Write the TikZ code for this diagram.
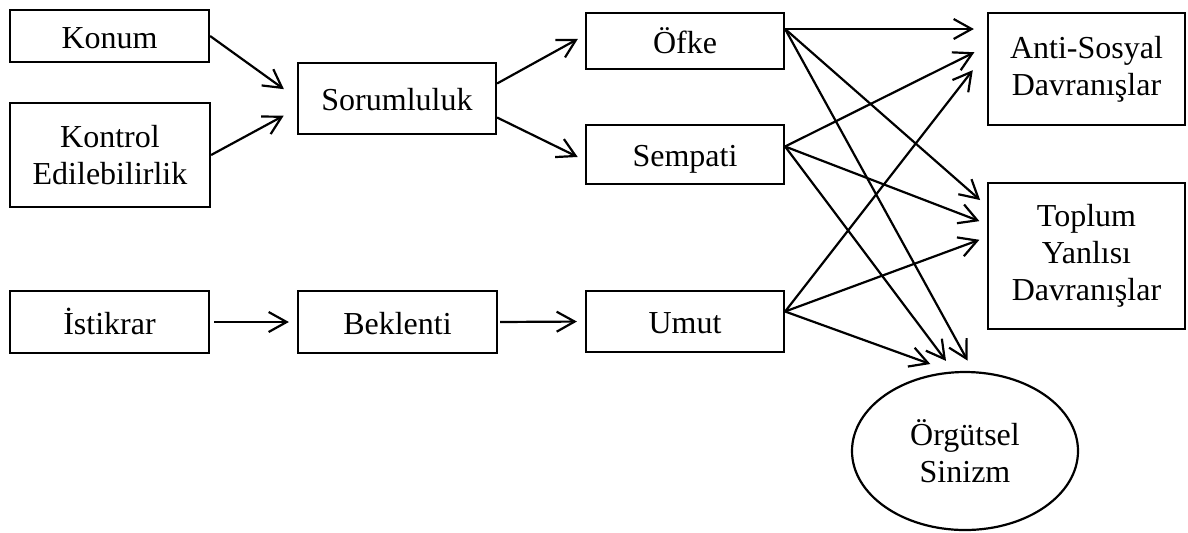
\documentclass[tikz,border=0pt]{standalone}
\usepackage{fontspec}
\setmainfont{Liberation Serif}
\usetikzlibrary{arrows.meta,shapes.geometric}
\tikzset{>={Straight Barb[length=9pt,width=10pt]}}

\begin{document}
\begin{tikzpicture}[x=0.5pt, y=-0.5pt, line width=1.1pt,
  box/.style={draw,rectangle,inner sep=0pt,align=center,font=\fontsize{16}{18.5}\selectfont},
  line/.style={text height=14pt,text depth=2pt},
  arr/.style={->,shorten >=4pt}]
  \useasboundingbox (0,0) rectangle (1188,532);

  % Causes
  \node[box,line,minimum width=99.5pt,minimum height=26pt] (konum)    at (109.5,36)  {Konum};
  \node[box,minimum width=100pt,minimum height=52pt]       (kontrol)  at (110,155)   {Kontrol\\Edilebilirlik};
  \node[box,line,minimum width=99.5pt,minimum height=31pt] (istikrar) at (109.5,322) {İstikrar};

  % Cognitions
  \node[box,line,minimum width=99pt,minimum height=35.5pt] (sorum)    at (397,98.5)  {Sorumluluk};
  \node[box,line,minimum width=99.5pt,minimum height=31pt] (beklenti) at (397.5,322) {Beklenti};

  % Emotions
  \node[box,line,minimum width=99pt,minimum height=28pt]   (ofke)     at (685,41)    {Öfke};
  \node[box,line,minimum width=99pt,minimum height=29.5pt] (sempati)  at (685,154.5) {Sempati};
  \node[box,line,minimum width=99pt,minimum height=30.5pt] (umut)     at (685,321.5) {Umut};

  % Outcomes
  \node[box,minimum width=98.5pt,minimum height=56pt]   (anti)     at (1086.5,69)  {Anti-Sosyal\\Davranışlar};
  \node[box,minimum width=98.5pt,minimum height=73pt]   (toplum)   at (1086.5,256) {Toplum\\Yanlısı\\Davranışlar};
  \node[box,ellipse,minimum width=113pt,minimum height=79pt] (sinizm) at (965,451) {Örgütsel\\Sinizm};

  % Edges to the cognitions
  \draw[arr,shorten >=8pt] (konum.east) -- (sorum.west);
  \draw[arr,shorten >=7.5pt] (kontrol.east) -- ([yshift=-5pt]sorum.west);
  \draw[arr,shorten <=2pt] (istikrar.east) -- (beklenti.west);

  % Edges to the emotions
  \draw[arr] ([yshift=7.5pt]sorum.east) -- ([yshift=3pt]ofke.west);
  \draw[arr] ([yshift=-9.5pt]sorum.east) -- ([yshift=-3pt]sempati.west);
  \draw[arr,shorten <=1pt] (beklenti.east) -- (umut.west);

  % Edges to the outcomes
  \draw[arr,shorten >=6.5pt] ([yshift=6pt]ofke.east) -- ([yshift=20pt]anti.west);
  \draw[arr,shorten >=4.5pt] ([yshift=6pt]ofke.east) -- ([yshift=25pt]toplum.west);
  \draw[arr,shorten >=6pt] ([yshift=6pt]ofke.east) -- (sinizm.84);
  \draw[arr,shorten >=7pt] ([yshift=4pt]sempati.east) -- ([yshift=11.5pt]anti.west);
  \draw[arr] ([yshift=4pt]sempati.east) -- ([yshift=16pt]toplum.west);
  \draw[arr,shorten >=6.5pt] ([yshift=4pt]sempati.east) -- (sinizm.98);
  \draw[arr,shorten >=11.5pt] ([yshift=5pt]umut.east) -- ([yshift=8.5pt]anti.west);
  \draw[arr] ([yshift=5pt]umut.east) -- ([yshift=9.5pt]toplum.west);
  \draw[arr,shorten >=11pt] ([yshift=5pt]umut.east) -- (sinizm.100);
\end{tikzpicture}
\end{document}
